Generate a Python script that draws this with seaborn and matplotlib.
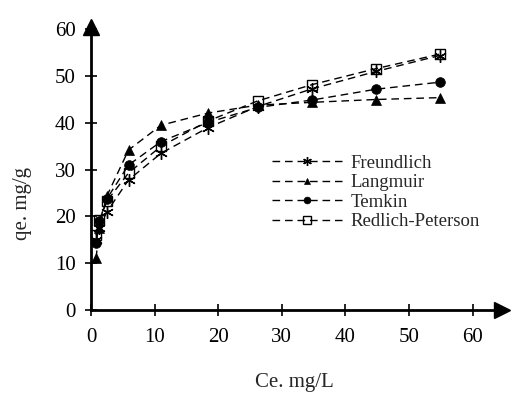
import matplotlib
matplotlib.use("Agg")
import matplotlib.pyplot as plt
import seaborn as sns
import pandas as pd

ce = [0.8, 1.3, 2.5, 5.9, 11.0, 18.4, 26.2, 34.8, 44.8, 54.8]
freundlich = [15.0, 17.5, 21.0, 27.8, 33.5, 39.0, 43.5, 47.3, 51.0, 54.4]
langmuir = [11.1, 17.5, 24.4, 34.2, 39.5, 42.1, 43.8, 44.4, 45.0, 45.4]
temkin = [14.3, 19.0, 23.8, 31.0, 36.0, 40.1, 43.3, 44.9, 47.2, 48.7]
redlich = [16.0, 19.2, 23.3, 29.3, 35.0, 40.4, 44.7, 48.2, 51.6, 54.7]

series_names = ["Freundlich", "Langmuir", "Temkin", "Redlich-Peterson"]
series_vals = [freundlich, langmuir, temkin, redlich]
x_ticks = [0, 10, 20, 30, 40, 50, 60]
y_ticks = [0, 10, 20, 30, 40, 50, 60]

sns.set_style("ticks")
plt.rcParams["font.family"] = ["Liberation Serif", "DejaVu Serif"]

fig = plt.figure(figsize=(5.29, 3.96), dpi=100)
ax = fig.add_axes([91/529, 1 - 310/396, (502-91)/529, (310-27)/396])

styles = {
    "Freundlich": dict(marker=(6, 2, 0), ms=9, mfc="black", mew=1.0),
    "Langmuir": dict(marker="^", ms=7, mfc="black", mew=0.5),
    "Temkin": dict(marker="o", ms=7, mfc="black", mew=0.5),
    "Redlich-Peterson": dict(marker="s", ms=7.5, mfc="none", mew=1.0),
}

for name, vals in zip(series_names, series_vals):
    df = pd.DataFrame({"Ce": ce, "qe": vals})
    st = styles[name]
    sns.lineplot(data=df, x="Ce", y="qe", ax=ax, color="black", lw=1.0,
                 marker=st["marker"], markersize=st["ms"],
                 markerfacecolor=st["mfc"], markeredgecolor="black",
                 markeredgewidth=st["mew"], dashes=False, label=name,
                 linestyle=(0, (5.5, 3.5)), clip_on=False, zorder=3)

ax.set_xlim(0, 64.6)
ax.set_ylim(0, 60.5)
ax.set_xticks(x_ticks)
ax.set_yticks(y_ticks)
for s in ["top", "right"]:
    ax.spines[s].set_visible(False)
for s in ["left", "bottom"]:
    ax.spines[s].set_linewidth(2.0)
    ax.spines[s].set_color("black")
ax.tick_params(axis="both", direction="inout", length=8, width=1.2,
               labelsize=15, colors="black")
ax.tick_params(axis="y", pad=7)
ax.tick_params(axis="x", pad=9)

# arrow heads
ax.plot(1, 0, marker=">", ms=11, color="black", transform=ax.transAxes, clip_on=False)
ax.plot(0, 1, marker="^", ms=11, color="black", transform=ax.transAxes, clip_on=False)

ax.set_xlabel("")
ax.set_ylabel("")
fig.text(294/529, 1 - 383/396, "Ce. mg/L", ha="center", va="center", fontsize=15)
fig.text(22/529, 1 - 203/396, "qe. mg/g", ha="center", va="center", rotation=90, fontsize=15)

leg = ax.legend(loc="upper left", bbox_to_anchor=(263/529, 1 - 145/396),
                bbox_transform=fig.transFigure, frameon=False, fontsize=13.5,
                handlelength=3.7, handletextpad=0.45, labelspacing=0.13,
                borderpad=0, markerscale=0.7)

fig.savefig("out.png", dpi=100)
